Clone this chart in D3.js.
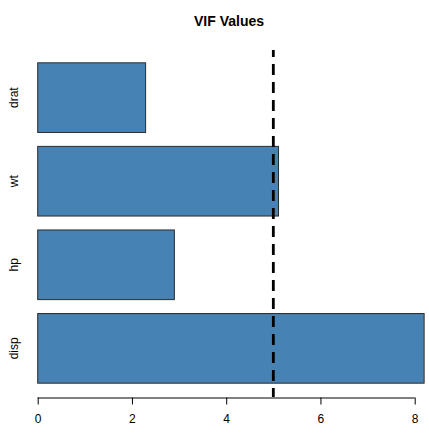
<!doctype html>
<html>
<head>
<meta charset="utf-8">
<script src="https://d3js.org/d3.v7.min.js"></script>
<style>
  body { margin: 0; background: #fff; }
  text { font-family: "Liberation Sans", Arial, sans-serif; }
</style>
</head>
<body>
<svg width="429" height="437"></svg>
<script>
// VIF values, bottom to top as drawn
var predictors = ["disp", "hp", "wt", "drat"];
var vifValues = [8.20, 2.90, 5.11, 2.29];
var xTicks = [0, 2, 4, 6, 8];
var threshold = 5;

var svg = d3.select("svg");

// plot region
var x = d3.scaleLinear().domain([0, 8]).range([37.7, 414.7]);
// R barplot slots: width 1, space 0.2, with 4% range extension
var y = d3.scaleLinear().domain([0.016, 4.984]).range([396, 50]);

var bars = predictors.map(function(p, i) {
  return { name: p, value: vifValues[i], lo: 0.2 + i * 1.2, hi: 1.2 + i * 1.2 };
});

svg.append("g")
  .selectAll("rect")
  .data(bars)
  .enter()
    .append("rect")
    .attr("x", x(0))
    .attr("y", d => y(d.hi))
    .attr("width", d => x(d.value) - x(0))
    .attr("height", d => y(d.lo) - y(d.hi))
    .style("fill", "#4682B4")
    .style("stroke", "#2b2b2b")
    .style("stroke-width", 1);

// category labels, rotated like R's las = 0
svg.append("g")
  .selectAll("text")
  .data(bars)
  .enter()
    .append("text")
    .attr("transform", d => `translate(18, ${y((d.lo + d.hi) / 2)}) rotate(-90)`)
    .style("text-anchor", "middle")
    .style("font-size", "12px")
    .text(d => d.name);

// x axis
var axis = d3.axisBottom(x).tickValues(xTicks).tickSize(7).tickPadding(10).tickSizeOuter(0);
var gx = svg.append("g")
  .attr("transform", "translate(0, 397.5)")
  .call(axis);
gx.select(".domain").attr("d", `M${x(0)},0.5H${x(8)}`).style("stroke", "#000");
gx.selectAll(".tick line").style("stroke", "#000");
gx.selectAll(".tick text")
  .style("font-size", "12px")
  .style("font-family", "Liberation Sans, Arial, sans-serif")
  .style("fill", "#000");

// threshold line
svg.append("line")
  .attr("x1", x(threshold)).attr("x2", x(threshold))
  .attr("y1", 50).attr("y2", 397)
  .style("stroke", "#000")
  .style("stroke-width", 2.8)
  .style("stroke-dasharray", "11,7")
  .style("stroke-dashoffset", 4);

// title
svg.append("text")
  .attr("x", 229)
  .attr("y", 26)
  .style("text-anchor", "middle")
  .style("font-size", "14px")
  .style("font-weight", "bold")
  .text("VIF Values");
</script>
</body>
</html>
